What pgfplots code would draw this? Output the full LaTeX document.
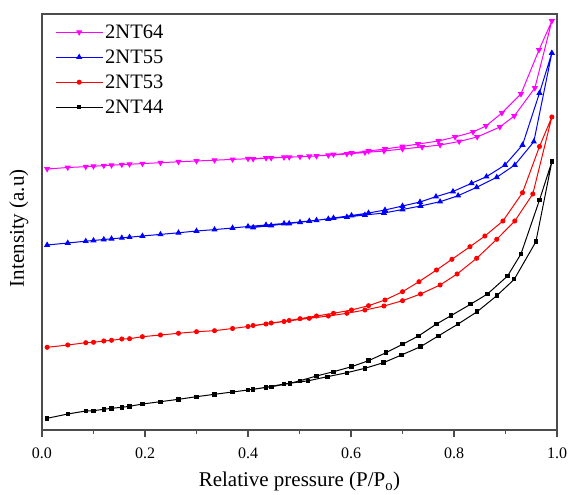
\documentclass[border=0pt]{standalone}
\usepackage{pgfplots}
\pgfplotsset{compat=1.18}
\usepackage{fontspec}
\setmainfont{Liberation Serif}
\definecolor{pinkm}{RGB}{255,0,255}
\definecolor{bluem}{RGB}{0,0,255}
\definecolor{redm}{RGB}{255,0,0}

\begin{document}
\begin{tikzpicture}
\useasboundingbox (-42pt,-65pt) rectangle (528pt,430pt);
\begin{axis}[
    at={(0,0)}, anchor=south west,
    width=515pt, height=416pt, scale only axis,
    xmin=0, xmax=1, ymin=0, ymax=416,
    axis line style={draw=black!70, line width=1.3pt},
    xtick={0,0.2,...,1.0},
    minor x tick num=1,
    ytick=\empty,
    xtick pos=bottom,
    tick align=outside,
    major tick length=7pt, minor tick length=4pt,
    tick style={black!70, line width=1.2pt},
    /pgf/number format/assume math mode=true,
    xticklabel style={font=\fontsize{16}{19}\selectfont, yshift=-7pt, /pgf/number format/.cd, fixed, fixed zerofill, precision=1},
    xlabel={Relative pressure (P/P\textsubscript{o})},
    ylabel={Intensity (a.u)},
    label style={font=\fontsize{21}{24}\selectfont},
    xlabel style={at={(axis description cs:0.5,-0.137)}, anchor=base},
    ylabel style={at={(axis description cs:-0.045,0.485)}, anchor=center},
    legend style={at={(axis description cs:0,1)}, anchor=north west, draw=none, fill=none,
        font=\fontsize{20.5}{23}\selectfont, row sep=7pt, inner xsep=13pt, inner ysep=9pt,
        nodes={text height=14pt, text depth=2pt, inner ysep=1pt}},
    legend cell align=left,
    legend image code/.code={
        \draw[mark repeat=2, mark phase=2] plot coordinates {(0pt,0pt) (23.5pt,0pt) (47pt,0pt)};
    },
]

\addplot[pinkm, line width=1pt, mark=triangle*, mark size=2.6pt, mark options={rotate=180}] coordinates {
    (0.01,261) (0.05,262.5) (0.085,263.3) (0.10,263.8) (0.12,264.4) (0.135,264.8) (0.155,265.4)
    (0.17,265.8) (0.195,266.4) (0.23,267.3) (0.265,268.2) (0.30,269) (0.335,269.8) (0.37,270.6)
    (0.40,271.3) (0.435,272) (0.47,272.7) (0.519,273.7) (0.556,274.7) (0.592,276) (0.627,277.5)
    (0.664,279) (0.700,281) (0.738,283) (0.773,285) (0.810,288.5) (0.845,293) (0.889,303)
    (0.917,314) (0.957,342) (0.99,409)
    (0.965,380) (0.930,336) (0.893,317) (0.862,304) (0.837,298) (0.802,293) (0.77,289)
    (0.73,286) (0.70,283.5) (0.666,281) (0.634,279) (0.601,277) (0.566,275.5) (0.533,274)
    (0.501,273.3) (0.48,272.8) (0.445,272) (0.41,271)
};
\addlegendentry{2NT64}

\addplot[bluem, line width=1pt, mark=triangle*, mark size=2.6pt] coordinates {
    (0.01,185) (0.05,187) (0.085,188.8) (0.10,189.5) (0.12,190.5) (0.135,191.2) (0.155,192.1)
    (0.17,192.8) (0.195,194) (0.23,195.6) (0.265,197.2) (0.30,199) (0.335,200.4) (0.37,202)
    (0.40,203.5) (0.435,205) (0.47,206.5) (0.519,209) (0.556,211) (0.592,213) (0.627,215)
    (0.664,217) (0.700,220.5) (0.735,224) (0.773,228.3) (0.808,234.3) (0.844,242.7) (0.883,252.7)
    (0.918,265) (0.955,288.3) (0.99,377)
    (0.966,337) (0.933,285) (0.899,265) (0.863,253.3) (0.834,246.7) (0.798,238.5) (0.765,233.3)
    (0.734,228) (0.700,224) (0.666,220) (0.634,217) (0.601,214.5) (0.566,212) (0.533,209.7)
    (0.501,207.7) (0.48,206.5) (0.445,204.5) (0.41,202.5)
};
\addlegendentry{2NT55}

\addplot[redm, line width=1pt, mark=*, mark size=2pt] coordinates {
    (0.01,82.7) (0.05,85) (0.085,87.3) (0.10,87.7) (0.12,89) (0.135,89.7) (0.155,91)
    (0.17,91.3) (0.195,93.3) (0.23,95) (0.265,96.7) (0.30,98.3) (0.335,99.3) (0.37,101.5)
    (0.40,103.5) (0.435,106) (0.47,108.5) (0.519,111.7) (0.556,114) (0.592,116.7) (0.627,120)
    (0.664,124) (0.700,129.3) (0.735,136) (0.773,145) (0.806,156) (0.844,171.7) (0.883,190.7)
    (0.918,209) (0.953,236) (0.99,313)
    (0.966,283.5) (0.933,237.3) (0.895,209) (0.860,194) (0.831,183.3) (0.796,170.7) (0.766,160)
    (0.732,148.3) (0.700,138.3) (0.666,130) (0.634,124.3) (0.601,120) (0.566,116.7) (0.533,114)
    (0.501,111.3) (0.48,109.5) (0.445,107) (0.41,104.5)
};
\addlegendentry{2NT53}

\addplot[black, line width=1pt, mark=square*, mark size=1.7pt] coordinates {
    (0.01,11.7) (0.05,16) (0.085,19) (0.10,19.3) (0.12,20.7) (0.135,21.7) (0.155,22.7)
    (0.17,23.7) (0.195,26) (0.23,28.3) (0.265,30.7) (0.30,33.3) (0.335,35.7) (0.37,38)
    (0.40,40) (0.435,42.7) (0.47,46) (0.517,49.2) (0.554,53.3) (0.592,57.3) (0.627,61.7)
    (0.663,67.3) (0.698,75) (0.735,83.3) (0.77,94.2) (0.808,106) (0.845,118.3) (0.883,134.3)
    (0.917,150.7) (0.959,188.3) (0.99,268.3)
    (0.966,230) (0.930,176) (0.904,154) (0.865,136) (0.832,125.7) (0.794,114.3) (0.766,106)
    (0.731,94) (0.700,85.7) (0.668,77.3) (0.634,69.3) (0.601,63.3) (0.566,58.3) (0.533,54)
    (0.501,49.3) (0.482,46.7) (0.446,43.3) (0.41,40.7)
};
\addlegendentry{2NT44}

\end{axis}
\end{tikzpicture}
\end{document}
